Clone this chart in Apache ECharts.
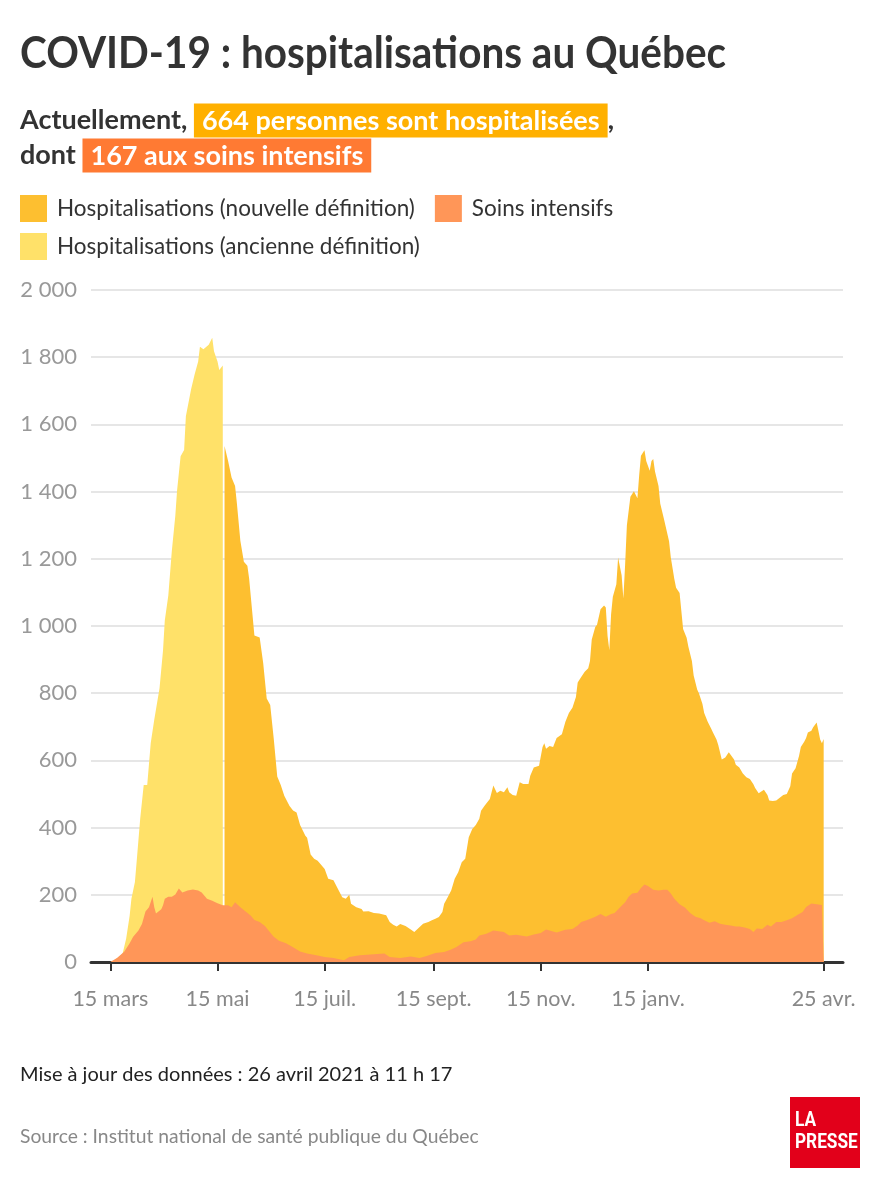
<!DOCTYPE html>
<html>
<head>
<meta charset="utf-8">
<script src="https://cdn.jsdelivr.net/npm/echarts@6/dist/echarts.min.js"></script>
<style>
html,body{margin:0;padding:0;background:#fff;}
#chart{width:880px;height:1200px;}
</style>
</head>
<body>
<div id="chart"></div>
<script>
// ---- Data ----
const oldDef = [['2020-03-15',0],['2020-03-17',3],['2020-03-22',25],['2020-03-24',69],['2020-03-26',138],['2020-03-27',188],['2020-03-29',238],['2020-03-30',300],['2020-04-01',426],['2020-04-03',527],['2020-04-05',527],['2020-04-06',589],['2020-04-07',652],['2020-04-09',721],['2020-04-10',752],['2020-04-12',815],['2020-04-14',928],['2020-04-15',1016],['2020-04-17',1091],['2020-04-19',1223],['2020-04-21',1329],['2020-04-22',1404],['2020-04-24',1505],['2020-04-26',1524],['2020-04-27',1624],['2020-04-30',1705],['2020-05-02',1749],['2020-05-04',1787],['2020-05-05',1831],['2020-05-07',1824],['2020-05-08',1824],['2020-05-10',1837],['2020-05-12',1858],['2020-05-13',1818],['2020-05-15',1787],['2020-05-16',1762],['2020-05-18',1775]];

const newDef = [['2020-05-19',1536],['2020-05-21',1492],['2020-05-23',1442],['2020-05-25',1417],['2020-05-26',1367],['2020-05-28',1254],['2020-05-30',1191],['2020-06-01',1179],['2020-06-02',1141],['2020-06-04',1028],['2020-06-05',972],['2020-06-08',966],['2020-06-10',890],['2020-06-12',784],['2020-06-14',765],['2020-06-16',665],['2020-06-18',552],['2020-06-20',527],['2020-06-22',495],['2020-06-25',464],['2020-06-27',451],['2020-06-29',445],['2020-07-01',408],['2020-07-04',376],['2020-07-05',370],['2020-07-07',320],['2020-07-09',307],['2020-07-11',301],['2020-07-12',297],['2020-07-15',277],['2020-07-17',248],['2020-07-20',243],['2020-07-23',213],['2020-07-25',193],['2020-07-27',188],['2020-07-29',200],['2020-07-30',173],['2020-08-02',163],['2020-08-05',158],['2020-08-06',150],['2020-08-09',151],['2020-08-12',146],['2020-08-15',144],['2020-08-19',139],['2020-08-21',119],['2020-08-23',111],['2020-08-25',106],['2020-08-27',113],['2020-08-30',107],['2020-09-02',97],['2020-09-04',89],['2020-09-06',99],['2020-09-09',114],['2020-09-12',119],['2020-09-14',124],['2020-09-16',129],['2020-09-18',134],['2020-09-20',149],['2020-09-21',173],['2020-09-23',193],['2020-09-25',213],['2020-09-27',248],['2020-09-29',267],['2020-10-01',297],['2020-10-03',307],['2020-10-05',371],['2020-10-07',396],['2020-10-09',408],['2020-10-11',426],['2020-10-12',450],['2020-10-14',465],['2020-10-17',485],['2020-10-19',525],['2020-10-21',503],['2020-10-23',510],['2020-10-25',505],['2020-10-27',520],['2020-10-28',505],['2020-10-30',497],['2020-11-01',495],['2020-11-03',535],['2020-11-05',530],['2020-11-08',530],['2020-11-09',554],['2020-11-11',579],['2020-11-14',584],['2020-11-15',589],['2020-11-16',640],['2020-11-17',651],['2020-11-18',635],['2020-11-20',643],['2020-11-22',640],['2020-11-24',667],['2020-11-25',672],['2020-11-27',678],['2020-11-29',715],['2020-12-01',741],['2020-12-03',757],['2020-12-05',789],['2020-12-06',832],['2020-12-08',848],['2020-12-10',864],['2020-12-12',874],['2020-12-13',896],['2020-12-14',960],['2020-12-16',997],['2020-12-17',1004],['2020-12-19',1050],['2020-12-21',1061],['2020-12-22',1055],['2020-12-23',970],['2020-12-24',928],['2020-12-25',1034],['2020-12-26',1087],['2020-12-28',1124],['2020-12-29',1204],['2020-12-31',1151],['2021-01-01',1082],['2021-01-02',1183],['2021-01-03',1300],['2021-01-05',1385],['2021-01-06',1380],['2021-01-07',1401],['2021-01-09',1380],['2021-01-10',1449],['2021-01-11',1507],['2021-01-13',1523],['2021-01-14',1491],['2021-01-16',1462],['2021-01-17',1491],['2021-01-18',1497],['2021-01-19',1460],['2021-01-21',1417],['2021-01-22',1364],['2021-01-24',1321],['2021-01-25',1316],['2021-01-27',1252],['2021-01-28',1204],['2021-01-30',1140],['2021-01-31',1114],['2021-02-02',1098],['2021-02-03',1045],['2021-02-04',991],['2021-02-06',965],['2021-02-07',938],['2021-02-09',896],['2021-02-10',853],['2021-02-12',811],['2021-02-13',800],['2021-02-15',768],['2021-02-16',741],['2021-02-18',715],['2021-02-20',694],['2021-02-21',683],['2021-02-23',662],['2021-02-24',646],['2021-02-26',603],['2021-02-28',609],['2021-03-02',624],['2021-03-03',619],['2021-03-05',603],['2021-03-06',587],['2021-03-08',579],['2021-03-10',561],['2021-03-12',550],['2021-03-14',545],['2021-03-16',529],['2021-03-17',518],['2021-03-19',502],['2021-03-20',502],['2021-03-22',513],['2021-03-24',497],['2021-03-25',481],['2021-03-27',479],['2021-03-29',481],['2021-03-30',486],['2021-04-02',497],['2021-04-04',500],['2021-04-06',523],['2021-04-07',561],['2021-04-09',577],['2021-04-11',614],['2021-04-12',640],['2021-04-14',656],['2021-04-15',667],['2021-04-16',683],['2021-04-18',688],['2021-04-19',699],['2021-04-21',713],['2021-04-22',688],['2021-04-23',662],['2021-04-24',651],['2021-04-25',664]];

const icu = [['2020-03-15',0],['2020-03-19',13],['2020-03-23',31],['2020-03-26',56],['2020-03-28',75],['2020-03-31',94],['2020-04-02',113],['2020-04-04',150],['2020-04-06',163],['2020-04-08',194],['2020-04-09',163],['2020-04-10',144],['2020-04-13',157],['2020-04-14',169],['2020-04-15',188],['2020-04-17',194],['2020-04-19',194],['2020-04-21',201],['2020-04-23',219],['2020-04-25',207],['2020-04-28',213],['2020-05-01',216],['2020-05-04',213],['2020-05-06',207],['2020-05-09',188],['2020-05-12',182],['2020-05-15',175],['2020-05-18',169],['2020-05-21',169],['2020-05-23',163],['2020-05-25',178],['2020-05-28',163],['2020-05-31',150],['2020-06-03',138],['2020-06-05',125],['2020-06-08',119],['2020-06-11',107],['2020-06-14',88],['2020-06-16',75],['2020-06-19',63],['2020-06-23',56],['2020-06-27',44],['2020-07-01',31],['2020-07-05',25],['2020-07-11',19],['2020-07-15',15],['2020-07-20',12],['2020-07-26',5],['2020-07-29',15],['2020-08-04',20],['2020-08-12',23],['2020-08-18',25],['2020-08-21',15],['2020-08-27',12],['2020-09-02',16],['2020-09-07',12],['2020-09-11',18],['2020-09-16',27],['2020-09-21',30],['2020-09-25',37],['2020-09-28',45],['2020-10-02',59],['2020-10-06',62],['2020-10-09',67],['2020-10-11',79],['2020-10-15',84],['2020-10-19',94],['2020-10-21',92],['2020-10-25',89],['2020-10-28',79],['2020-11-01',81],['2020-11-07',76],['2020-11-11',82],['2020-11-15',86],['2020-11-18',97],['2020-11-20',94],['2020-11-24',88],['2020-11-29',96],['2020-12-03',98],['2020-12-06',109],['2020-12-08',119],['2020-12-11',124],['2020-12-14',130],['2020-12-16',135],['2020-12-19',143],['2020-12-22',135],['2020-12-25',143],['2020-12-27',146],['2020-12-30',162],['2021-01-02',178],['2021-01-04',194],['2021-01-06',204],['2021-01-09',206],['2021-01-11',220],['2021-01-13',231],['2021-01-15',226],['2021-01-18',215],['2021-01-21',213],['2021-01-24',215],['2021-01-26',215],['2021-01-28',204],['2021-01-30',188],['2021-02-02',172],['2021-02-05',162],['2021-02-08',146],['2021-02-11',135],['2021-02-14',130],['2021-02-16',124],['2021-02-19',117],['2021-02-22',121],['2021-02-25',114],['2021-02-28',111],['2021-03-03',109],['2021-03-06',106],['2021-03-08',106],['2021-03-11',103],['2021-03-14',98],['2021-03-16',89],['2021-03-18',100],['2021-03-21',98],['2021-03-24',111],['2021-03-26',106],['2021-03-29',119],['2021-04-01',119],['2021-04-04',124],['2021-04-07',130],['2021-04-10',140],['2021-04-13',149],['2021-04-15',164],['2021-04-18',174],['2021-04-21',172],['2021-04-24',170],['2021-04-25',167]];

const tickDates = ['2020-03-15','2020-05-15','2020-07-15','2020-09-15','2020-11-15','2021-01-15','2021-04-25'];
const tickLabels = ['15 mars','15 mai','15 juil.','15 sept.','15 nov.','15 janv.','25 avr.'];
const seriesNames = ['Hospitalisations (nouvelle définition)','Soins intensifs','Hospitalisations (ancienne définition)'];
const seriesColors = ['#FDBF30','#FF9658','#FFE169'];

// ---- helpers ----
function ts(s){const p=s.split('-').map(Number);return Date.UTC(p[0],p[1]-1,p[2]);}
const tickTs = tickDates.map(ts);
const toPts = arr => arr.map(d => [ts(d[0]), d[1]]);
const fmtNum = v => String(v).replace(/\B(?=(\d{3})+(?!\d))/g,' ');
const FONT = 'Lato, "Noto Sans", sans-serif';

const chart = echarts.init(document.getElementById('chart'), null, {renderer:'canvas'});

const legendBase = {
  left: 20, padding: 0, itemWidth: 27, itemHeight: 27, itemGap: 20, icon: 'rect', selectedMode: false,
  textStyle: {fontFamily: FONT, fontSize: 22.5, color: '#333', padding: [0,0,0,5]}
};

const areaSeries = (name, data, color, z) => ({
  type: 'line', name, data: toPts(data), z,
  showSymbol: false, symbol: 'none', smooth: false,
  lineStyle: {width: 0, color}, itemStyle: {color},
  areaStyle: {color, opacity: 1}, emphasis: {disabled: true},
  animation: false
});

chart.setOption({
  backgroundColor: '#fff',
  animation: false,
  textStyle: {fontFamily: FONT},
  grid: {left: 91, right: 37, top: 290, bottom: 238, containLabel: false},
  legend: [
    Object.assign({}, legendBase, {top: 195, data: [seriesNames[0], seriesNames[1]]}),
    Object.assign({}, legendBase, {top: 233, data: [seriesNames[2]]})
  ],
  xAxis: {
    type: 'value', min: ts('2020-03-04'), max: ts('2021-05-06'),
    axisLine: {show: true, lineStyle: {color: '#333', width: 3}},
    axisTick: {show: true, customValues: tickTs, length: 9, lineStyle: {color: '#333', width: 2}},
    axisLabel: {
      customValues: tickTs, color: '#888', fontSize: 21.5, fontFamily: FONT, margin: 26,
      formatter: v => { const i = tickTs.findIndex(t => Math.abs(t - v) < 43200000); return i >= 0 ? tickLabels[i] : ''; }
    },
    splitLine: {show: false}
  },
  yAxis: {
    type: 'value', min: 0, max: 2000, interval: 200,
    axisLine: {show: false}, axisTick: {show: false},
    splitLine: {lineStyle: {color: '#e6e6e6', width: 2}},
    axisLabel: {color: '#999', fontSize: 22, fontFamily: FONT, margin: 14, formatter: v => fmtNum(v)}
  },
  series: [
    areaSeries(seriesNames[2], oldDef, seriesColors[2], 2),
    areaSeries(seriesNames[0], newDef, seriesColors[0], 3),
    areaSeries(seriesNames[1], icu, seriesColors[1], 4)
  ],
  graphic: [
    {type: 'text', x: 20, y: 32, scaleX: 0.92, style: {text: 'COVID-19 : hospitalisations au Québec', fontFamily: FONT, fontWeight: 'bold', fontSize: 44, fill: '#333'}},
    {type: 'text', x: 20, y: 103, style: {
      text: '{b|Actuellement, }{h1|664 personnes sont hospitalisées}{b|,}\n{b|dont }{h2|167 aux soins intensifs}',
      rich: {
        b: {fontFamily: FONT, fontWeight: 'bold', fontSize: 27, fill: '#333', lineHeight: 35},
        h1: {fontFamily: FONT, fontWeight: 'bold', fontSize: 27, fill: '#fff', backgroundColor: '#FFB000', padding: [4,8,3,8], lineHeight: 33},
        h2: {fontFamily: FONT, fontWeight: 'bold', fontSize: 27, fill: '#fff', backgroundColor: '#FF7A33', padding: [4,8,3,8], lineHeight: 33}
      }
    }},
    {type: 'text', x: 20, y: 1065, style: {text: 'Mise à jour des données : 26 avril 2021 à 11 h 17', fontFamily: FONT, fontSize: 20, fill: '#222'}},
    {type: 'text', x: 20, y: 1127, style: {text: 'Source : Institut national de santé publique du Québec', fontFamily: FONT, fontSize: 19.3, fill: '#888'}},
    {type: 'rect', shape: {x: 790, y: 1097, width: 70, height: 71}, style: {fill: '#E2001A'}},
    {type: 'text', x: 795, y: 1110, scaleX: 0.82, style: {text: 'LA\nPRESSE', fontFamily: 'Roboto, sans-serif', fontWeight: 'bold', fontSize: 21, lineHeight: 22, fill: '#fff'}}
  ]
});
</script>
</body>
</html>
